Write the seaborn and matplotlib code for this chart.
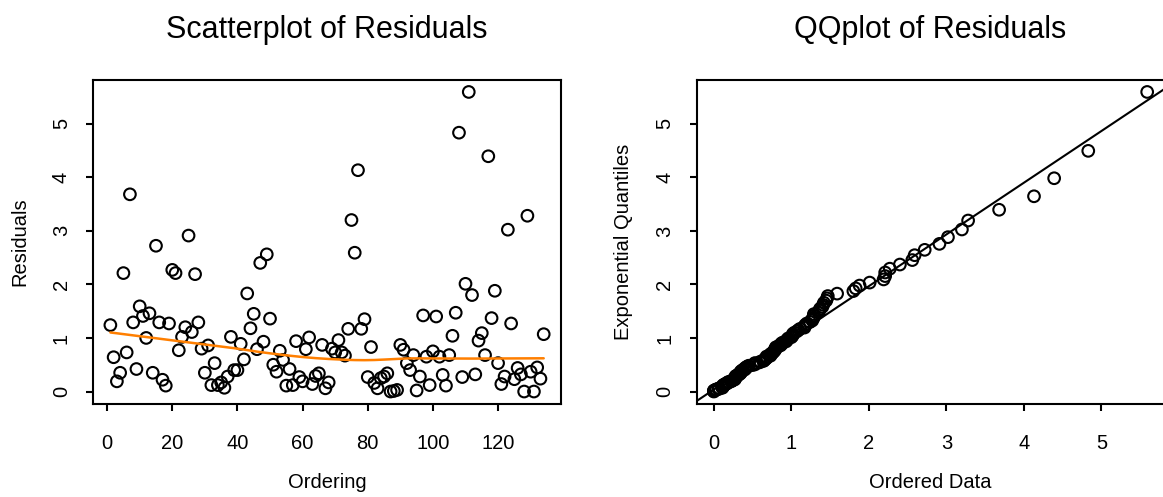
import numpy as np
import pandas as pd
import matplotlib
matplotlib.use("Agg")
import matplotlib.pyplot as plt
import seaborn as sns

# ---- data ----
residuals = [
    1.24, 0.64, 0.19, 0.35, 2.21, 0.73, 3.68, 1.29, 0.42, 1.59,
    1.41, 1.00, 1.46, 0.35, 2.72, 1.29, 0.22, 0.11, 1.27, 2.27,
    2.21, 0.77, 1.02, 1.20, 2.91, 1.11, 2.19, 1.29, 0.80, 0.35,
    0.86, 0.12, 0.53, 0.12, 0.17, 0.07, 0.28, 1.02, 0.40, 0.40,
    0.89, 0.60, 1.83, 1.18, 1.45, 0.79, 2.40, 0.93, 2.56, 1.36,
    0.50, 0.37, 0.76, 0.59, 0.11, 0.42, 0.12, 0.94, 0.27, 0.19,
    0.79, 1.01, 0.14, 0.29, 0.34, 0.87, 0.06, 0.17, 0.80, 0.73,
    0.96, 0.73, 0.67, 1.17, 3.20, 2.59, 4.13, 1.17, 1.35, 0.27,
    0.83, 0.16, 0.06, 0.25, 0.28, 0.34, 0.00, 0.01, 0.03, 0.87,
    0.78, 0.53, 0.40, 0.68, 0.02, 0.28, 1.42, 0.65, 0.12, 0.75,
    1.40, 0.65, 0.31, 0.11, 0.68, 1.04, 1.47, 4.83, 0.27, 2.01,
    5.59, 1.80, 0.32, 0.95, 1.09, 0.68, 4.39, 1.37, 1.88, 0.53,
    0.14, 0.28, 3.02, 1.27, 0.23, 0.44, 0.32, 0.00, 3.28, 0.37,
    0.00, 0.45, 0.24, 1.07,
]
ordering = list(range(1, len(residuals) + 1))

left_xticks = [0, 20, 40, 60, 80, 100, 120]
right_xticks = [0, 1, 2, 3, 4, 5]
yticks = [0, 1, 2, 3, 4, 5]

left_title = "Scatterplot of Residuals"
right_title = "QQplot of Residuals"
left_xlabel, left_ylabel = "Ordering", "Residuals"
right_xlabel, right_ylabel = "Ordered Data", "Exponential Quantiles"


def lowess(x, y, f=2 / 3, iters=3):
    x = np.asarray(x, float)
    y = np.asarray(y, float)
    n = len(x)
    r = int(np.ceil(f * n))
    h = np.array([np.sort(np.abs(x - x[i]))[r - 1] for i in range(n)])
    w = np.clip(np.abs((x[:, None] - x[None, :]) / h[:, None]), 0, 1)
    w = (1 - w ** 3) ** 3
    yest = np.zeros(n)
    delta = np.ones(n)
    for _ in range(iters + 1):
        for i in range(n):
            wt = delta * w[i]
            sw = wt.sum()
            xm = (wt * x).sum() / sw
            ym = (wt * y).sum() / sw
            sxx = (wt * (x - xm) ** 2).sum()
            sxy = (wt * (x - xm) * (y - ym)).sum()
            b = sxy / sxx if sxx > 0 else 0.0
            yest[i] = ym + b * (x[i] - xm)
        res = y - yest
        s = np.median(np.abs(res))
        delta = np.clip(res / (6 * s), -1, 1)
        delta = (1 - delta ** 2) ** 2
    return yest


def rlim(v):
    lo, hi = float(np.min(v)), float(np.max(v))
    d = 0.04 * (hi - lo)
    return lo - d, hi + d


df = pd.DataFrame({"Ordering": ordering, "Residuals": residuals})
df["smooth"] = lowess(df["Ordering"], df["Residuals"])

n = len(residuals)
pp = (np.arange(1, n + 1) - 0.5) / n
qq = pd.DataFrame({"data": np.sort(residuals), "theo": -np.log(1 - pp)})
slope, intercept = np.polyfit(qq["data"], qq["theo"], 1)

sns.set_style("ticks")
plt.rcParams["font.family"] = ["Liberation Sans", "DejaVu Sans"]
plt.rcParams.update({
    "axes.linewidth": 1.5,
    "text.color": "black",
    "axes.labelcolor": "black",
    "xtick.color": "black",
    "ytick.color": "black",
    "axes.edgecolor": "black",
})

fig = plt.figure(figsize=(11.63, 4.97), dpi=100)
ax1 = fig.add_axes([0.0800, 0.1881, 0.4024, 0.6510])
ax2 = fig.add_axes([0.5989, 0.1881, 0.4024, 0.6510])

mk = dict(marker="o", s=70, facecolor="none", edgecolor="black", linewidth=1.5, zorder=3)

sns.scatterplot(data=df, x="Ordering", y="Residuals", ax=ax1, **mk)
sns.lineplot(data=df, x="Ordering", y="smooth", ax=ax1, color="#FF7F00", linewidth=1.8, zorder=4)
ax1.set_xlim(*rlim(df["Ordering"]))
ax1.set_ylim(*rlim(df["Residuals"]))

sns.scatterplot(data=qq, x="data", y="theo", ax=ax2, **mk)
ax2.axline((0, intercept), slope=slope, color="black", linewidth=1.5, zorder=2)
ax2.set_xlim(*rlim(qq["data"]))
ax2.set_ylim(*rlim(qq["theo"]))

for ax, xt, title, xl, yl in [
    (ax1, left_xticks, left_title, left_xlabel, left_ylabel),
    (ax2, right_xticks, right_title, right_xlabel, right_ylabel),
]:
    ax.set_xticks(xt)
    ax.set_yticks(yticks)
    ax.set_xticklabels([str(t) for t in xt])
    ax.set_yticklabels([str(t) for t in yticks], rotation=90, va="center")
    ax.tick_params(axis="both", length=5, width=1.5, labelsize=14.5,
                   color="black", labelcolor="black")
    ax.tick_params(axis="x", pad=17)
    ax.tick_params(axis="y", pad=11)
    ax.set_title(title, fontsize=22, pad=30, color="black")
    ax.set_xlabel(xl, fontsize=14.5, labelpad=14, color="black")
    ax.set_ylabel(yl, fontsize=14.5, labelpad=16, color="black")
    for sp in ax.spines.values():
        sp.set_visible(True)
        sp.set_color("black")
        sp.set_linewidth(1.5)

fig.savefig("out.png", dpi=100)
